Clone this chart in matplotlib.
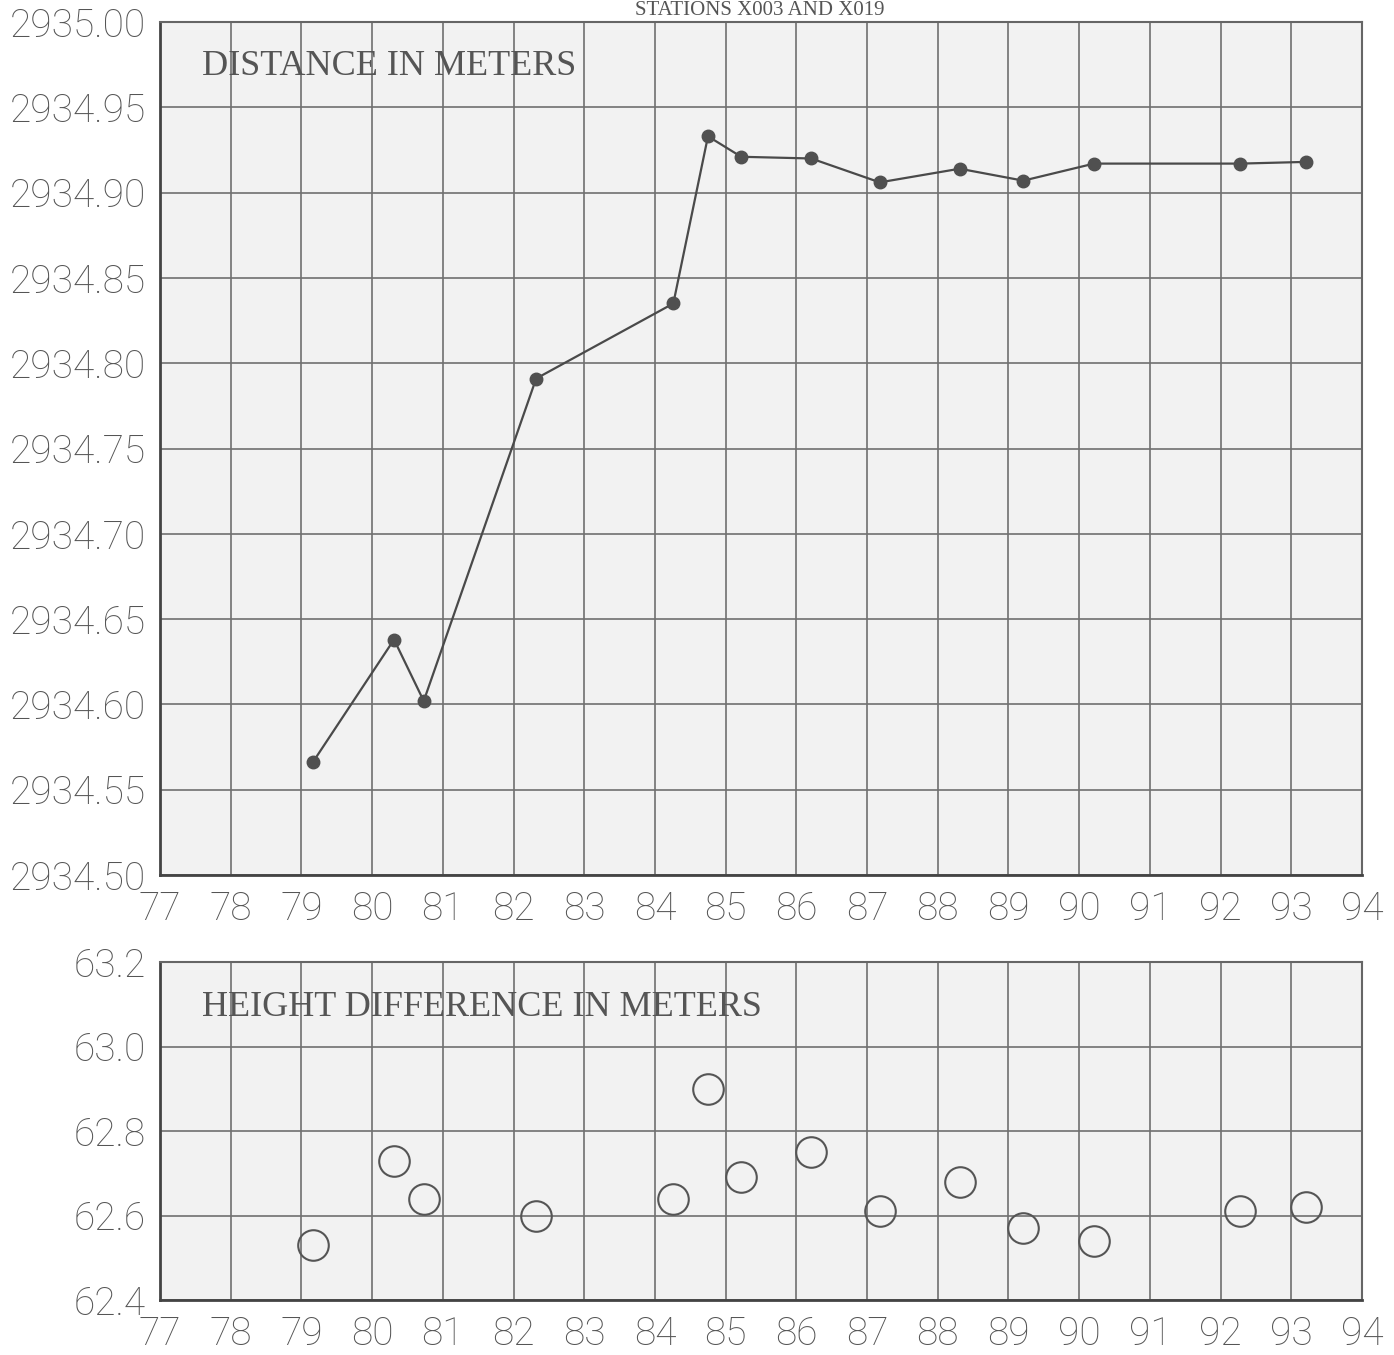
import matplotlib.pyplot as plt
import numpy as np

# Survey epochs (decimal years, 19xx)
years = [79.16, 80.31, 80.73, 82.32, 84.26, 84.75, 85.22, 86.21,
         87.18, 88.31, 89.21, 90.21, 92.28, 93.21]

# Slope distance between the two stations
distance = [2934.566, 2934.638, 2934.602, 2934.791, 2934.835, 2934.933,
            2934.921, 2934.920, 2934.906, 2934.914, 2934.907, 2934.917,
            2934.917, 2934.918]

# Height difference between the two stations
height_diff = [62.53, 62.73, 62.64, 62.60, 62.64, 62.90, 62.69, 62.75,
               62.61, 62.68, 62.57, 62.54, 62.61, 62.62]

x_ticks = list(range(77, 95))
dist_ticks = [2934.50, 2934.55, 2934.60, 2934.65, 2934.70, 2934.75,
              2934.80, 2934.85, 2934.90, 2934.95, 2935.00]
height_ticks = [62.4, 62.6, 62.8, 63.0, 63.2]

tick_font = dict(family='Roboto', weight='light', fontsize=28, color='#555555')
label_font = dict(family='Liberation Serif', fontsize=26, color='#555555')

fig = plt.figure(figsize=(13.94, 13.55), dpi=100)
W, H = 1394, 1355
ax1 = fig.add_axes([160 / W, 1 - 875 / H, 1202 / W, 853 / H])
ax2 = fig.add_axes([160 / W, 1 - 1300 / H, 1202 / W, 338 / H])

for ax in (ax1, ax2):
    ax.set_facecolor('#f2f2f2')
    ax.set_xlim(77, 94)
    ax.set_xticks(x_ticks)
    ax.set_xticklabels([str(t) for t in x_ticks], **tick_font)
    ax.grid(True, color='#707070', linewidth=1.2)
    ax.set_axisbelow(True)
    ax.tick_params(axis='x', length=0, pad=11)
    ax.tick_params(axis='y', length=0, pad=10)
    for side in ('left', 'bottom'):
        ax.spines[side].set_color('#444444')
        ax.spines[side].set_linewidth(2)
    for side in ('top', 'right'):
        ax.spines[side].set_color('#666666')
        ax.spines[side].set_linewidth(1.5)

# Distance: dots joined by a line
ax1.set_ylim(2934.50, 2935.00)
ax1.set_yticks(dist_ticks)
ax1.set_yticklabels(['%.2f' % v for v in dist_ticks], **tick_font)
ax1.plot(years, distance, color='#4a4a4a', linewidth=1.6,
         marker='o', markersize=9, markerfacecolor='#505050',
         markeredgecolor='#505050')
ax1.text(0.035, 0.948, 'DISTANCE IN METERS', transform=ax1.transAxes,
         va='center', ha='left', **label_font)

# Height difference: open circles
ax2.set_ylim(62.4, 63.2)
ax2.set_yticks(height_ticks)
ax2.set_yticklabels(['%.1f' % v for v in height_ticks], **tick_font)
ax2.plot(years, height_diff, linestyle='none', marker='o', markersize=22,
         markerfacecolor='none', markeredgecolor='#555555',
         markeredgewidth=1.5)
ax2.text(0.035, 0.865, 'HEIGHT DIFFERENCE IN METERS', transform=ax2.transAxes,
         va='center', ha='left', **label_font)

fig.text(0.545, 1 - 1 / H, 'STATIONS X003 AND X019', ha='center', va='top',
         family='Liberation Serif', fontsize=15, color='#555555')

fig.savefig('out.png', dpi=100, facecolor='white')
